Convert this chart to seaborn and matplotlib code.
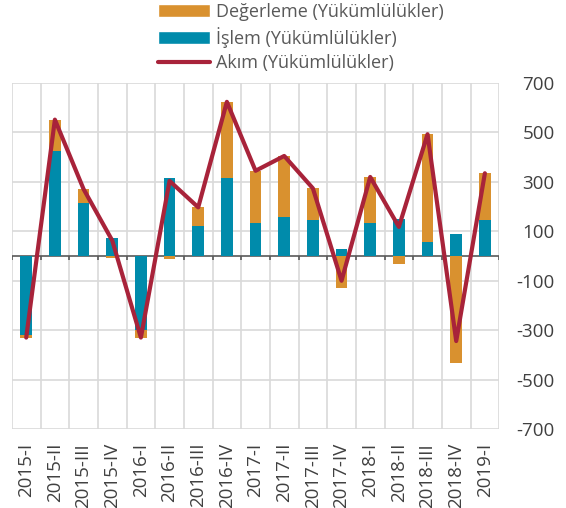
import seaborn as sns
import matplotlib.pyplot as plt
import pandas as pd
import numpy as np
from matplotlib.patches import Patch
from matplotlib.lines import Line2D

# data
periods = ["2015-I", "2015-II", "2015-III", "2015-IV",
           "2016-I", "2016-II", "2016-III", "2016-IV",
           "2017-I", "2017-II", "2017-III", "2017-IV",
           "2018-I", "2018-II", "2018-III", "2018-IV", "2019-I"]
islem = [-320, 425, 213, 72, -300, 315, 120, 315, 135, 157, 147, 28, 135, 150, 58, 88, 147]
degerleme = [-10, 125, 58, -9, -30, -10, 77, 307, 210, 248, 127, -128, 185, -32, 435, -432, 188]
akim = [-330, 552, 271, 63, -330, 304, 197, 624, 345, 405, 274, -100, 320, 118, 493, -344, 335]

df = pd.DataFrame({"period": periods, "islem": islem, "degerleme": degerleme, "akim": akim})
# Excel style stacking: same-sign values stack on top of each other
df["bottom"] = np.where(np.sign(df["islem"]) == np.sign(df["degerleme"]), df["islem"], 0)

c_deg = "#D9912F"
c_isl = "#008BAB"
c_akim = "#A8233A"
txt = "#595959"

sns.set_style("white")
plt.rcParams["font.family"] = ["Open Sans", "DejaVu Sans"]
plt.rcParams["axes.unicode_minus"] = False

fig = plt.figure(figsize=(5.66, 5.08), dpi=100)
ax = fig.add_axes([0.021, 0.1555, 0.861, 0.681])

sns.barplot(data=df, x="period", y="islem", color=c_isl, width=0.4,
            saturation=1, ax=ax, zorder=2, linewidth=0)
sns.barplot(data=df, x="period", y="degerleme", color=c_deg, width=0.4,
            saturation=1, ax=ax, bottom=df["bottom"].values, zorder=2, linewidth=0)
sns.lineplot(x=np.arange(len(periods)), y=df["akim"], color=c_akim, linewidth=3,
             ax=ax, zorder=3)

n = len(periods)
ax.set_xlim(-0.5, n - 0.5)
ax.set_ylim(-700, 700)
ax.set_yticks(np.arange(-700, 701, 200))
ax.yaxis.tick_right()
ax.tick_params(axis="y", length=0, pad=40, labelsize=13.5, labelcolor="#404040")
for lab in ax.get_yticklabels():
    lab.set_horizontalalignment("right")
ax.set_xticks(np.arange(n))
ax.set_xticklabels(periods, rotation=90)
ax.tick_params(axis="x", length=0, pad=10, labelsize=13.5, labelcolor="#404040")
ax.set_xticks(np.arange(-0.5, n), minor=True)
ax.tick_params(axis="x", which="minor", length=0)
ax.set_xlabel("")
ax.set_ylabel("")

ax.grid(axis="y", color="#d9d9d9", linewidth=1.2, zorder=0)
ax.grid(axis="x", which="minor", color="#d9d9d9", linewidth=1.2, zorder=0)
ax.set_axisbelow(True)
for s in ax.spines.values():
    s.set_visible(False)

# zero axis with small tick marks at category boundaries
ax.axhline(0, color="#595959", linewidth=1.2, zorder=1.5)
ax.vlines(np.arange(-0.5, n), -18, 0, color="#595959", linewidth=1.2, zorder=1.5)

handles = [Patch(facecolor=c_deg, label="Değerleme (Yükümlülükler)"),
           Patch(facecolor=c_isl, label="İşlem (Yükümlülükler)"),
           Line2D([0], [0], color=c_akim, linewidth=3, label="Akım (Yükümlülükler)")]
fig.legend(handles=handles, loc="upper left", bbox_to_anchor=(0.25, 1.026),
           frameon=False, fontsize=13, labelcolor=txt, handlelength=2.9,
           handleheight=0.7, labelspacing=0.34, handletextpad=0.3)

plt.savefig("out.png", dpi=100)
plt.close()
